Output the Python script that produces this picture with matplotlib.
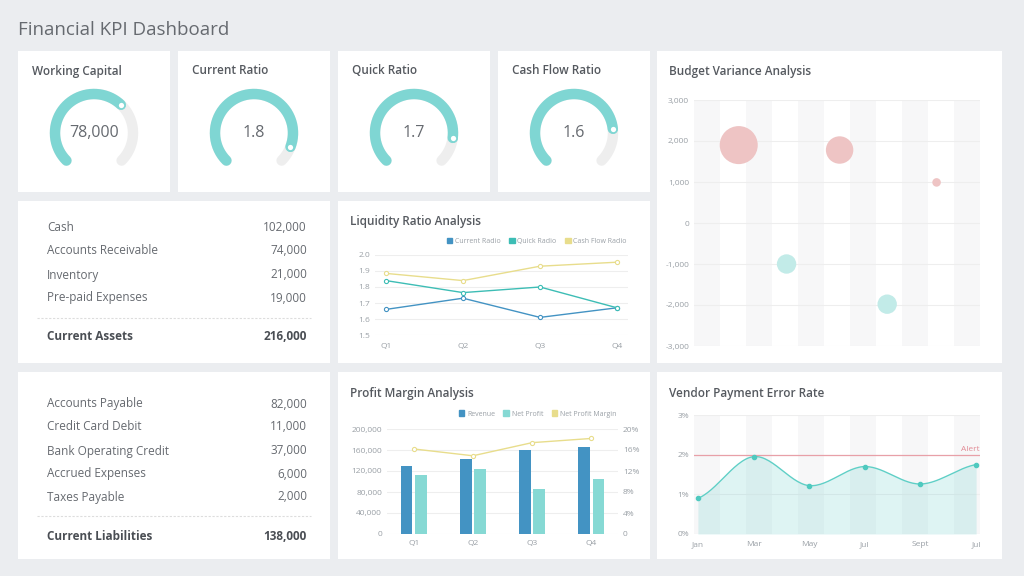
import numpy as np
import matplotlib
matplotlib.use("Agg")
import matplotlib.pyplot as plt
from matplotlib.patches import Rectangle, Patch
from matplotlib.lines import Line2D

plt.rcParams['font.family'] = ['Open Sans', 'DejaVu Sans']

# ---------------- data ----------------
gauge_titles = ["Working Capital", "Current Ratio", "Quick Ratio", "Cash Flow Ratio"]
gauge_values = ["78,000", "1.8", "1.7", "1.6"]
gauge_fill = [0.66, 0.91, 0.86, 0.81]

asset_labels = ["Cash", "Accounts Receivable", "Inventory", "Pre-paid Expenses"]
asset_values = ["102,000", "74,000", "21,000", "19,000"]
asset_total = ("Current Assets", "216,000")

liab_labels = ["Accounts Payable", "Credit Card Debit", "Bank Operating Credit",
               "Accrued Expenses", "Taxes Payable"]
liab_values = ["82,000", "11,000", "37,000", "6,000", "2,000"]
liab_total = ("Current Liabilities", "138,000")

quarters = ["Q1", "Q2", "Q3", "Q4"]
current_ratio = [1.66, 1.73, 1.61, 1.67]
quick_ratio = [1.84, 1.765, 1.80, 1.67]
cashflow_ratio = [1.885, 1.84, 1.93, 1.955]

revenue = [129000, 143000, 160000, 166000]
net_profit = [112000, 124000, 86000, 104000]
net_margin = [16.2, 14.9, 17.4, 18.2]

bubble_x = [1.72, 3.56, 5.6, 7.43, 9.33]
bubble_y = [1900, -1000, 1780, -1980, 990]
bubble_s = [750, 195, 390, 195, 38]

vendor_months = ["Jan", "Mar", "May", "Jul", "Sept", "Jul"]
vendor_rate = [0.9, 1.95, 1.22, 1.7, 1.26, 1.75]

# ---------------- styling ----------------
BG = "#ebedf0"
GREY = "#666a70"
LIGHT = "#9aa0a6"
CYAN = "#7fd6d3"
BLUE = "#4393c3"
YEL = "#e8dd8c"
W, H = 1024, 576

fig = plt.figure(figsize=(W / 100, H / 100), dpi=100, facecolor=BG)


def rect(x0, y0, x1, y1):
    return [x0 / W, 1 - y1 / H, (x1 - x0) / W, (y1 - y0) / H]


def ftext(x, y, s, **kw):
    fig.text(x / W, 1 - y / H, s, **kw)


def panel(x0, y0, x1, y1):
    fig.patches.append(Rectangle((x0 / W, 1 - y1 / H), (x1 - x0) / W, (y1 - y0) / H,
                                 transform=fig.transFigure, facecolor="white",
                                 edgecolor="none", zorder=-5))


def style_ax(ax):
    ax.set_facecolor("none")
    for s in ax.spines.values():
        s.set_visible(False)
    ax.tick_params(length=0, colors=LIGHT, labelsize=6)


ftext(18, 30, "Financial KPI Dashboard", fontsize=13.5, color=GREY, va="center")

# panels
for x0, x1 in [(18, 170), (178, 330), (338, 490), (498, 650)]:
    panel(x0, 51, x1, 192)
panel(657, 51, 1002, 363)
panel(18, 201, 330, 363)
panel(338, 201, 650, 363)
panel(18, 372, 330, 559)
panel(338, 372, 650, 559)
panel(657, 372, 1002, 559)

# ---------------- gauges ----------------
centers = [94, 254, 414, 574]
for i, cx in enumerate(centers):
    ftext(cx - 62, 71, gauge_titles[i], fontsize=8.5, color="#55595f",
          fontweight="semibold", va="center")
    ax = fig.add_axes(rect(cx - 50, 133 - 50, cx + 50, 133 + 50))
    ax.set_xlim(-50, 50)
    ax.set_ylim(-50, 50)
    ax.axis("off")
    r = 39
    th = np.linspace(np.deg2rad(225), np.deg2rad(-45), 200)
    ax.plot(r * np.cos(th), r * np.sin(th), color="#eeeeee", lw=7.5, solid_capstyle="round")
    end = 225 - 270 * gauge_fill[i]
    th2 = np.linspace(np.deg2rad(225), np.deg2rad(end), 200)
    ax.plot(r * np.cos(th2), r * np.sin(th2), color=CYAN, lw=7.5, solid_capstyle="round")
    ax.plot([r * np.cos(np.deg2rad(end))], [r * np.sin(np.deg2rad(end))], "o",
            ms=5, mfc="white", mec=CYAN, mew=1.2)
    ax.text(0, 0, gauge_values[i], ha="center", va="center", fontsize=11.5, color=GREY)


# ---------------- tables ----------------
def table(rows_y, labels, values, sep_y, total_y, total):
    for y, l, v in zip(rows_y, labels, values):
        ftext(47, y, l, fontsize=8.5, color=GREY, va="center")
        ftext(307, y, v, fontsize=8.5, color=GREY, va="center", ha="right")
    fig.add_artist(Line2D([37 / W, 311 / W], [1 - sep_y / H] * 2, color="#dddddd",
                          lw=0.8, ls=(0, (2, 1.5))))
    ftext(47, total_y, total[0], fontsize=8.5, color="#4a4e54", va="center", fontweight="bold")
    ftext(307, total_y, total[1], fontsize=8.5, color="#4a4e54", va="center", ha="right",
          fontweight="bold")


table([228, 251, 275, 298], asset_labels, asset_values, 318, 337, asset_total)
table([404, 427, 451, 474, 497], liab_labels, liab_values, 516, 536, liab_total)

# ---------------- liquidity ----------------
ftext(350, 221, "Liquidity Ratio Analysis", fontsize=8.5, color="#55595f",
      fontweight="semibold", va="center")
ax = fig.add_axes(rect(375, 255, 628, 335))
style_ax(ax)
xq = np.arange(4)
for vals, c in [(current_ratio, BLUE), (quick_ratio, "#3dbdb5"), (cashflow_ratio, YEL)]:
    ax.plot(xq, vals, color=c, lw=1, marker="o", ms=3, mfc="white", mec=c, mew=0.8)
ax.set_xlim(-0.143, 3.143)
ax.set_ylim(1.5, 2.0)
ax.set_yticks([1.5, 1.6, 1.7, 1.8, 1.9, 2.0])
ax.set_yticklabels(["1.5", "1.6", "1.7", "1.8", "1.9", "2.0"])
ax.set_xticks(xq)
ax.set_xticklabels(quarters)
ax.grid(axis="y", color="#eeeeee", lw=0.8)
ax.set_axisbelow(True)
ax.tick_params(axis="x", pad=6)
ax.legend(handles=[Patch(color=BLUE, label="Current Radio"),
                   Patch(color="#3dbdb5", label="Quick Radio"),
                   Patch(color=YEL, label="Cash Flow Radio")],
          loc="lower right", bbox_to_anchor=(1.02, 1.05), ncol=3, frameon=False,
          fontsize=5, handlelength=0.8, handleheight=0.8, columnspacing=1.2,
          handletextpad=0.4, labelcolor=LIGHT)

# ---------------- profit margin ----------------
ftext(350, 394, "Profit Margin Analysis", fontsize=8.5, color="#55595f",
      fontweight="semibold", va="center")
ax = fig.add_axes(rect(387, 429, 618, 534))
style_ax(ax)
ax.bar(xq - 0.12, revenue, width=0.2, color=BLUE)
ax.bar(xq + 0.12, net_profit, width=0.2, color="#86d9d4")
ax.set_ylim(0, 200000)
ax.set_xlim(-0.45, 3.45)
ax.set_yticks(range(0, 200001, 40000))
ax.set_yticklabels(["0", "40,000", "80,000", "120,000", "160,000", "200,000"])
ax.set_xticks(xq)
ax.set_xticklabels(quarters)
ax.grid(axis="y", color="#eeeeee", lw=0.8)
ax.set_axisbelow(True)
ax.tick_params(axis="x", pad=4)
ax2 = ax.twinx()
style_ax(ax2)
ax2.plot(xq, net_margin, color=YEL, lw=1, marker="o", ms=3, mfc="white", mec=YEL, mew=0.8)
ax2.set_ylim(0, 20)
ax2.set_yticks([0, 4, 8, 12, 16, 20])
ax2.set_yticklabels(["0", "4%", "8%", "12%", "16%", "20%"])
ax.legend(handles=[Patch(color=BLUE, label="Revenue"),
                   Patch(color="#86d9d4", label="Net Profit"),
                   Patch(color=YEL, label="Net Profit Margin")],
          loc="lower right", bbox_to_anchor=(1.02, 1.05), ncol=3, frameon=False,
          fontsize=5, handlelength=0.8, handleheight=0.8, columnspacing=1.2,
          handletextpad=0.4, labelcolor=LIGHT)

# ---------------- budget variance ----------------
ftext(669, 71, "Budget Variance Analysis", fontsize=8.5, color="#55595f",
      fontweight="semibold", va="center")
ax = fig.add_axes(rect(694, 100, 980, 346))
style_ax(ax)
ax.set_xlim(0, 11)
for k in range(0, 11, 2):
    ax.axvspan(k, k + 1, color="#f7f7f8", lw=0, zorder=0)
ax.set_ylim(-3000, 3000)
ax.set_yticks(range(-3000, 3001, 1000))
ax.set_yticklabels(["-3,000", "-2,000", "-1,000", "0", "1,000", "2,000", "3,000"])
ax.set_xticks([])
ax.grid(axis="y", color="#eeeeee", lw=0.8)
ax.set_axisbelow(True)
cols = ["#eec4c4" if v > 0 else "#c2ebe8" for v in bubble_y]
ax.scatter(bubble_x, bubble_y, s=bubble_s, c=cols, edgecolors="none", zorder=3)

# ---------------- vendor payment ----------------
ftext(669, 393, "Vendor Payment Error Rate", fontsize=8.5, color="#55595f",
      fontweight="semibold", va="center")
ax = fig.add_axes(rect(694, 415, 980, 534))
style_ax(ax)
xv = np.arange(len(vendor_rate))
ax.set_xlim(-0.07, 5.07)
for k in range(0, 11, 2):
    ax.axvspan(-0.07 + k * 5.14 / 11, -0.07 + (k + 1) * 5.14 / 11, color="#f7f7f8", lw=0, zorder=0)
ax.set_ylim(0, 3)
ax.set_yticks([0, 1, 2, 3])
ax.set_yticklabels(["0%", "1%", "2%", "3%"])
ax.set_xticks(xv)
ax.set_xticklabels(vendor_months)
ax.grid(axis="y", color="#eeeeee", lw=0.8)
ax.set_axisbelow(True)
# smooth rendering (Catmull-Rom) through the data points
P = np.array(vendor_rate)
Pp = np.concatenate([[P[0]], P, [P[-1]]])
xs, ys = [], []
for i in range(len(P) - 1):
    t = np.linspace(0, 1, 30)
    p0, p1, p2, p3 = Pp[i], Pp[i + 1], Pp[i + 2], Pp[i + 3]
    yy = 0.5 * (2 * p1 + (-p0 + p2) * t + (2 * p0 - 5 * p1 + 4 * p2 - p3) * t ** 2
                + (-p0 + 3 * p1 - 3 * p2 + p3) * t ** 3)
    xs.extend(i + t)
    ys.extend(yy)
ax.fill_between(xs, ys, 0, color="#7fd6d3", alpha=0.25, lw=0, zorder=2)
ax.plot(xs, ys, color="#5fcfc6", lw=1, zorder=3)
ax.plot(xv, vendor_rate, "o", color="#4fc9bf", ms=3, zorder=4)
ax.axhline(2, color="#e8a0a8", lw=0.9, zorder=3)
ax.text(5.07, 2.05, "Alert", color="#e28a94", fontsize=6, ha="right", va="bottom")
ax.tick_params(axis="x", pad=5)

fig.savefig("out.png", dpi=100, facecolor=BG)
